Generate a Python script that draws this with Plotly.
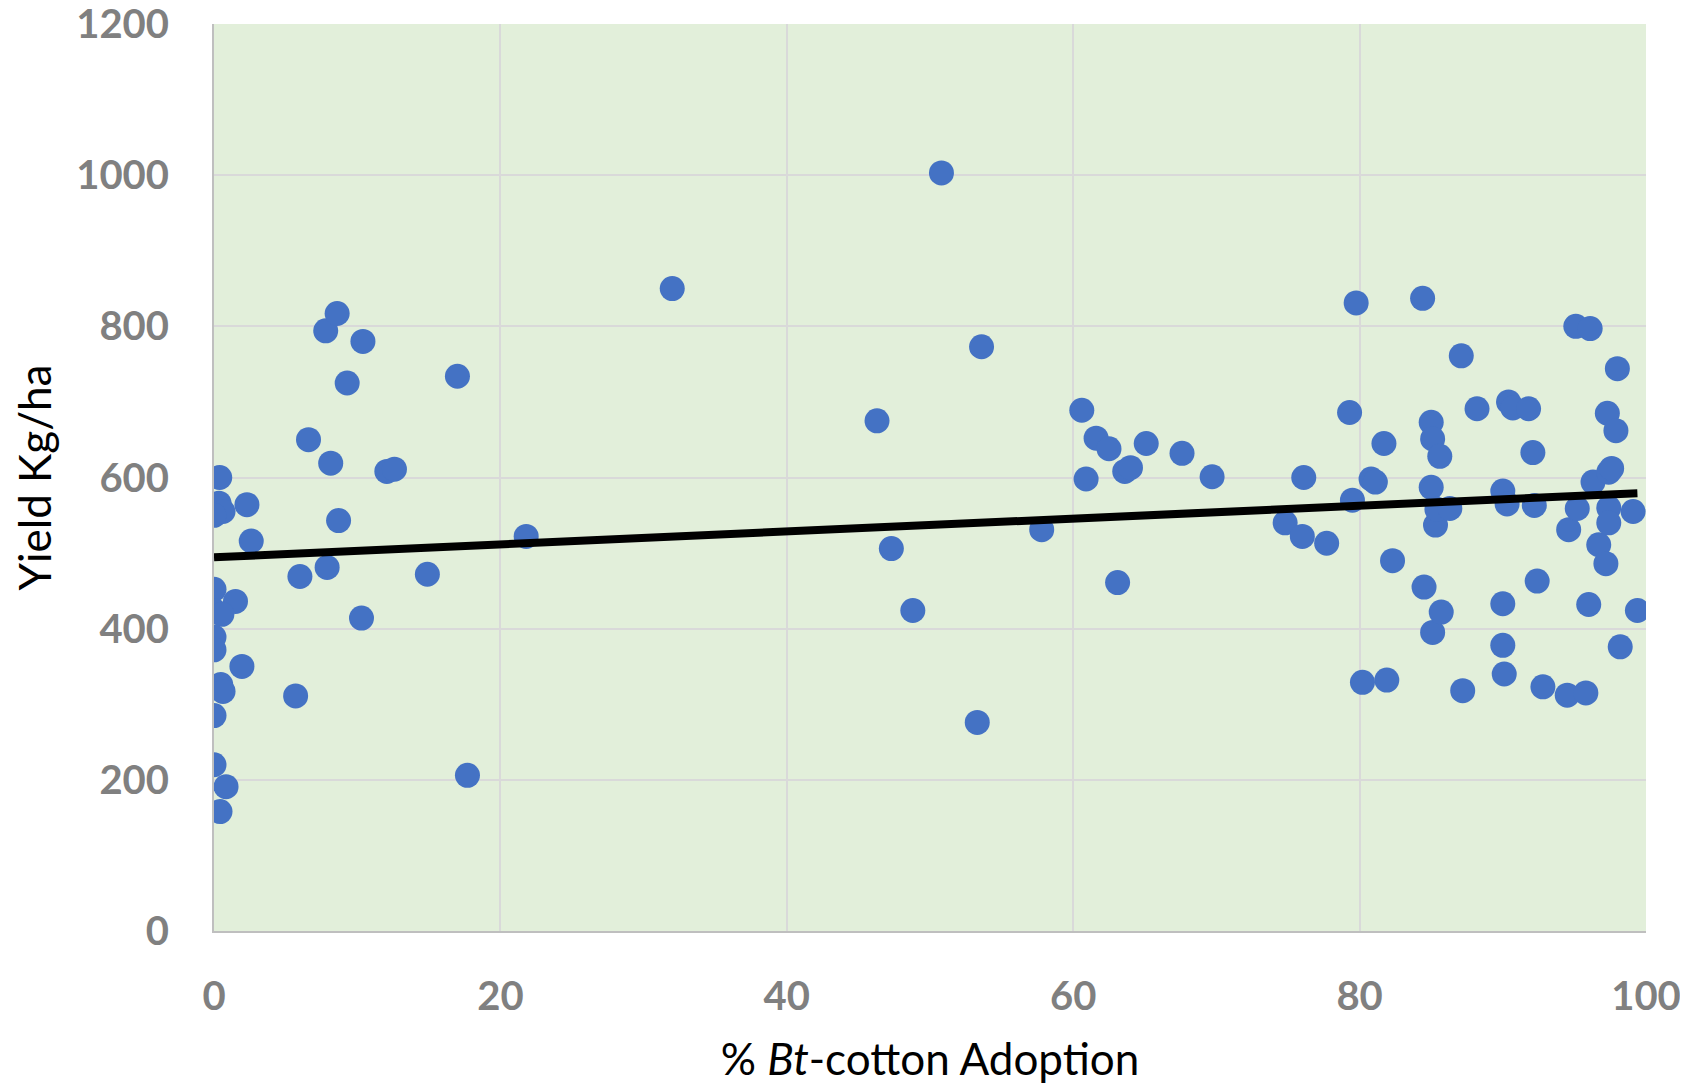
import numpy as np
import plotly.graph_objects as go

adoption = [
    0.4, 0.35, 0.63, 0.0, 2.3, 2.6, 0.0, 1.5, 0.0, 0.55, 0.0, 0.0, 1.95, 0.47, 0.63, 0.0, 0.0, 0.84, 0.42,
    5.7, 6.0, 6.6, 7.8, 8.6, 8.15, 7.9, 8.7, 9.3, 10.4, 10.3, 12.07, 12.6, 14.9, 17.0, 17.7, 21.8, 32.0,
    46.3, 47.3, 48.8, 50.8, 53.3, 53.6, 57.8, 60.6, 60.9, 61.6, 62.5, 63.6, 64.0, 63.1, 65.1, 67.6, 69.7,
    74.8, 76.0, 76.1, 77.7, 79.3, 79.76, 79.5, 80.2, 80.8, 81.1, 81.7, 81.9, 82.3, 84.4, 84.5,
    85.0, 85.1, 85.6, 85.0, 85.3, 85.1, 85.7, 85.4, 86.3, 87.1, 87.2, 88.2,
    90.0, 90.3, 90.0, 90.0, 90.1, 90.4, 90.7, 91.8, 92.1, 92.2, 92.4, 92.8,
    94.5, 94.6, 95.2, 95.1, 96.1, 95.8, 96.0, 96.3, 96.7, 97.2, 97.3, 97.4, 97.6, 97.4, 97.4,
    97.9, 98.0, 98.2, 99.1, 99.4,
]
yield_kg = [
    600, 566, 555, 550, 564, 516, 452, 436, 424, 419, 389, 372, 350, 326, 317, 285, 220, 191, 158,
    311, 469, 650, 794, 817, 619, 481, 543, 725, 780, 414, 608, 611, 472, 734, 206, 522, 850,
    675, 506, 424, 1003, 276, 773, 531, 689, 598, 652, 638, 608, 613, 461, 645, 632, 601,
    540, 522, 600, 513, 686, 831, 570, 329, 598, 594, 645, 332, 490, 837, 455,
    673, 651, 628, 587, 537, 395, 422, 558, 559, 761, 318, 691,
    582, 565, 433, 378, 340, 700, 692, 691, 633, 563, 463, 323,
    312, 531, 559, 800, 797, 315, 432, 594, 511, 486, 685, 607, 612, 560, 540,
    662, 744, 376, 555, 424,
]

x_ticks = [0, 20, 40, 60, 80, 100]
y_ticks = [0, 200, 400, 600, 800, 1000, 1200]

x = np.array(adoption)
y = np.array(yield_kg)
slope, intercept = np.polyfit(x, y, 1)
trend_x = np.array([x.min(), x.max()])
trend_y = intercept + slope * trend_x

fig = go.Figure()
fig.add_trace(go.Scatter(
    x=adoption, y=yield_kg, mode="markers",
    marker=dict(color="#4472C4", size=25, line=dict(width=0)),
    showlegend=False, hoverinfo="x+y",
))
fig.add_trace(go.Scatter(
    x=trend_x, y=trend_y, mode="lines",
    line=dict(color="black", width=8),
    showlegend=False, hoverinfo="skip",
))

tick_font = dict(family="Lato, Open Sans, sans-serif", size=40, color="#808080", weight="bold")
title_font = dict(family="Lato, Open Sans, sans-serif", size=44, color="black")

# page body has an 8px default margin; size the figure so it fills the 1688x1084 window
fig.update_layout(
    width=1680, height=1076,
    margin=dict(l=206, r=42, t=16, b=153),
    paper_bgcolor="white",
    plot_bgcolor="#E2EFDA",
    xaxis=dict(
        range=[0, 100], tickvals=x_ticks, ticktext=[str(v) for v in x_ticks],
        showgrid=True, gridcolor="#D9D9D9", gridwidth=1.5,
        showline=True, linecolor="#BFBFBF", linewidth=2,
        zeroline=False, ticks="", tickfont=tick_font, ticklabelstandoff=29,
        ticklabeloverflow="allow", automargin=False,
        title=dict(text="% <i>Bt</i>-cotton Adoption", font=title_font, standoff=27),
    ),
    yaxis=dict(
        range=[0, 1200], tickvals=y_ticks, ticktext=[str(v) for v in y_ticks],
        showgrid=True, gridcolor="#D9D9D9", gridwidth=1.5,
        showline=True, linecolor="#BFBFBF", linewidth=2,
        zeroline=False, ticks="", tickfont=tick_font, ticklabelstandoff=35,
        ticklabeloverflow="allow", automargin=False,
        title=dict(text="Yield Kg/ha", font=title_font, standoff=24),
    ),
)

fig.write_html("out.html")
